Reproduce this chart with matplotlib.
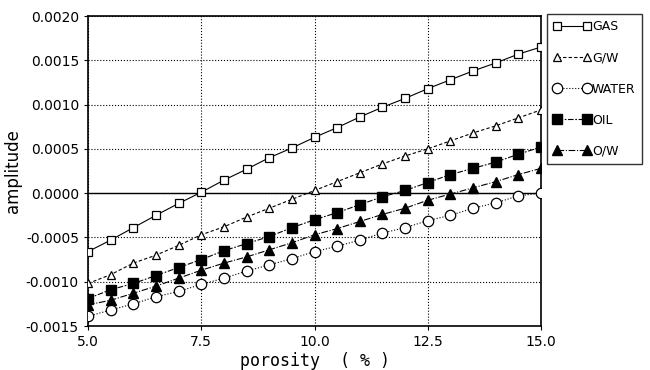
import matplotlib
matplotlib.use('Agg')
import matplotlib.pyplot as plt

plt.rcParams['font.family'] = ['DejaVu Sans Condensed', 'Liberation Sans Narrow', 'DejaVu Sans']

porosity = [5.0, 5.5, 6.0, 6.5, 7.0, 7.5, 8.0, 8.5, 9.0, 9.5, 10.0,
            10.5, 11.0, 11.5, 12.0, 12.5, 13.0, 13.5, 14.0, 14.5, 15.0]

gas = [-0.00066, -0.00053, -0.00039, -0.00025, -0.000116, 0.00001, 0.000147,
       0.00027, 0.00040, 0.00051, 0.00063, 0.00074, 0.00086, 0.00097,
       0.00107, 0.00118, 0.00128, 0.00138, 0.00147, 0.00157, 0.00165]
gw = [-0.00102, -0.00092, -0.00079, -0.00070, -0.00059, -0.00047, -0.00038,
      -0.00027, -0.00017, -0.00007, 0.00003, 0.00013, 0.00023, 0.00033,
      0.00042, 0.00050, 0.00059, 0.00068, 0.00076, 0.00085, 0.00094]
water = [-0.00139, -0.00132, -0.00125, -0.00117, -0.00111, -0.00103, -0.00096,
         -0.00088, -0.00081, -0.00074, -0.00066, -0.00060, -0.00053, -0.00045,
         -0.00039, -0.00031, -0.00025, -0.00017, -0.00011, -0.00003, 0.00000]
oil = [-0.00119, -0.00109, -0.00102, -0.00093, -0.00084, -0.00075, -0.00065,
       -0.00057, -0.00049, -0.00039, -0.00030, -0.00022, -0.00013, -0.00004,
       0.00003, 0.00012, 0.00021, 0.00028, 0.00035, 0.00044, 0.00052]
ow = [-0.00126, -0.00121, -0.00113, -0.00105, -0.00096, -0.00087, -0.00079,
      -0.00072, -0.00064, -0.00056, -0.00047, -0.00040, -0.00032, -0.00024,
      -0.00017, -0.00008, -0.00001, 0.00006, 0.00013, 0.00021, 0.00028]

xticks = [5.0, 7.5, 10.0, 12.5, 15.0]
yticks = [-0.0015, -0.0010, -0.0005, 0.0000, 0.0005, 0.0010, 0.0015, 0.0020]

fig = plt.figure(figsize=(6.5, 3.7), dpi=100)
ax = fig.add_axes([0.1354, 0.1189, 0.6969, 0.8378])

lw = 0.8
ax.plot(porosity, gas, '-', color='black', lw=lw, marker='s', ms=5.5,
        mfc='white', mec='black', mew=0.9, label='GAS', zorder=3)
ax.plot(porosity, gw, linestyle=(0, (3, 2)), color='black', lw=lw, marker='^', ms=6,
        mfc='white', mec='black', mew=0.9, label='G/W', zorder=3)
ax.plot(porosity, water, ':', color='black', lw=lw, marker='o', ms=7.5,
        mfc='white', mec='black', mew=0.9, label='WATER', zorder=3)
ax.plot(porosity, oil, linestyle=(0, (5, 1.5, 1.5, 1.5)), color='black', lw=lw,
        marker='s', ms=6.5, mfc='black', mec='black', label='OIL', zorder=3)
ax.plot(porosity, ow, linestyle=(0, (6, 1.5, 1, 1.5)), color='black', lw=lw,
        marker='^', ms=6.5, mfc='black', mec='black', label='O/W', zorder=3)

ax.axhline(0, color='black', lw=1.0, zorder=2)

ax.set_xlim(5.0, 15.0)
ax.set_ylim(-0.0015, 0.0020)
ax.set_xticks(xticks)
ax.set_xticklabels(['%.1f' % v for v in xticks])
ax.set_yticks(yticks)
ax.set_yticklabels(['%.4f' % v for v in yticks])
ax.grid(True, linestyle=':', color='black', lw=0.8)
ax.tick_params(labelsize=10, direction='out', length=3)
for s in ax.spines.values():
    s.set_linewidth(1.2)

ax.set_xlabel('porosity  ( % )', fontsize=12, family='DejaVu Sans Mono', labelpad=2)
ax.set_ylabel('amplitude', fontsize=12, labelpad=3)

leg = fig.legend(loc='upper left', bbox_to_anchor=(0.8415, 0.962),
                 bbox_transform=fig.transFigure, numpoints=2, fontsize=9,
                 frameon=True, fancybox=False, edgecolor='black',
                 handlelength=3.0, handletextpad=0.1, labelspacing=1.45,
                 borderpad=0.5, borderaxespad=0)
leg.get_frame().set_linewidth(1.0)

fig.savefig('out.png', dpi=100)
